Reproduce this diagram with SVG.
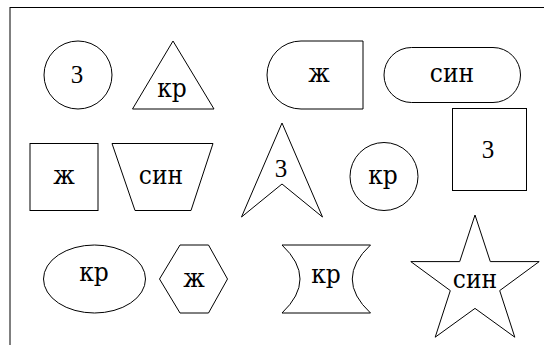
<svg xmlns="http://www.w3.org/2000/svg" width="544" height="345" viewBox="0 0 544 345">
<style>
.s{fill:#fff;stroke:#000;stroke-width:1}
.t{font-family:"DejaVu Serif Condensed","DejaVu Serif",serif;font-stretch:condensed;font-size:26px;fill:#000;text-anchor:middle}
.z{font-family:"Liberation Serif","Times New Roman",serif;font-size:25px;fill:#000;text-anchor:middle}
</style>
<rect width="544" height="345" fill="#fff"/>
<g id="frame">
<line x1="10" y1="7.5" x2="544" y2="7.5" stroke="#000" stroke-width="1"/>
<line x1="10" y1="7" x2="10" y2="345" stroke="#000" stroke-width="1"/>
</g>
<g id="connectors"></g>
<g id="n1"><circle class="s" cx="78" cy="75" r="34"/><text class="z" x="77" y="83">3</text></g>
<g id="n2"><polygon class="s" points="173,41 132.5,109 214,109"/><text class="t" x="172" y="97">кр</text></g>
<g id="n3"><path class="s" d="M301,41H363V109H301A34,34 0 0 1 301,41Z"/><text class="t" x="319" y="82">ж</text></g>
<g id="n4"><rect class="s" x="384" y="47.5" width="136.5" height="55" rx="27.5" ry="27.5"/><text class="t" x="452" y="82">син</text></g>
<g id="n5"><rect class="s" x="30" y="143.5" width="68" height="67"/><text class="t" x="64" y="184">ж</text></g>
<g id="n6"><polygon class="s" points="112,143.5 213,143.5 191,210.5 135,210.5"/><text class="t" x="161" y="184">син</text></g>
<g id="n7"><polygon class="s" points="282,123 322.5,217 282,184 241.5,217"/><text class="z" x="281" y="177">3</text></g>
<g id="n8"><circle class="s" cx="384" cy="176.5" r="34"/><text class="t" x="383" y="184">кр</text></g>
<g id="n9"><rect class="s" x="452.5" y="108.5" width="74" height="82"/><text class="z" x="488" y="158">3</text></g>
<g id="n10"><ellipse class="s" cx="94.5" cy="279" rx="51" ry="34"/><text class="t" x="94" y="281">кр</text></g>
<g id="n11"><polygon class="s" points="159.5,279 180,245 208.5,245 227.5,279 208.5,313 180,313"/><text class="t" x="194" y="287">ж</text></g>
<g id="n12"><path class="s" d="M282,245H370.5Q334,279 370.5,313H282Q318,279 282,245Z"/><text class="t" x="326" y="283">кр</text></g>
<g id="n13"><polygon class="s" points="475,215 490.3,261.6 539.2,261.6 499.7,290.6 514.8,337.2 475,308.4 435.2,337.2 450.3,290.6 410.8,261.6 459.7,261.6"/><text class="t" x="475" y="288">син</text></g>
</svg>
